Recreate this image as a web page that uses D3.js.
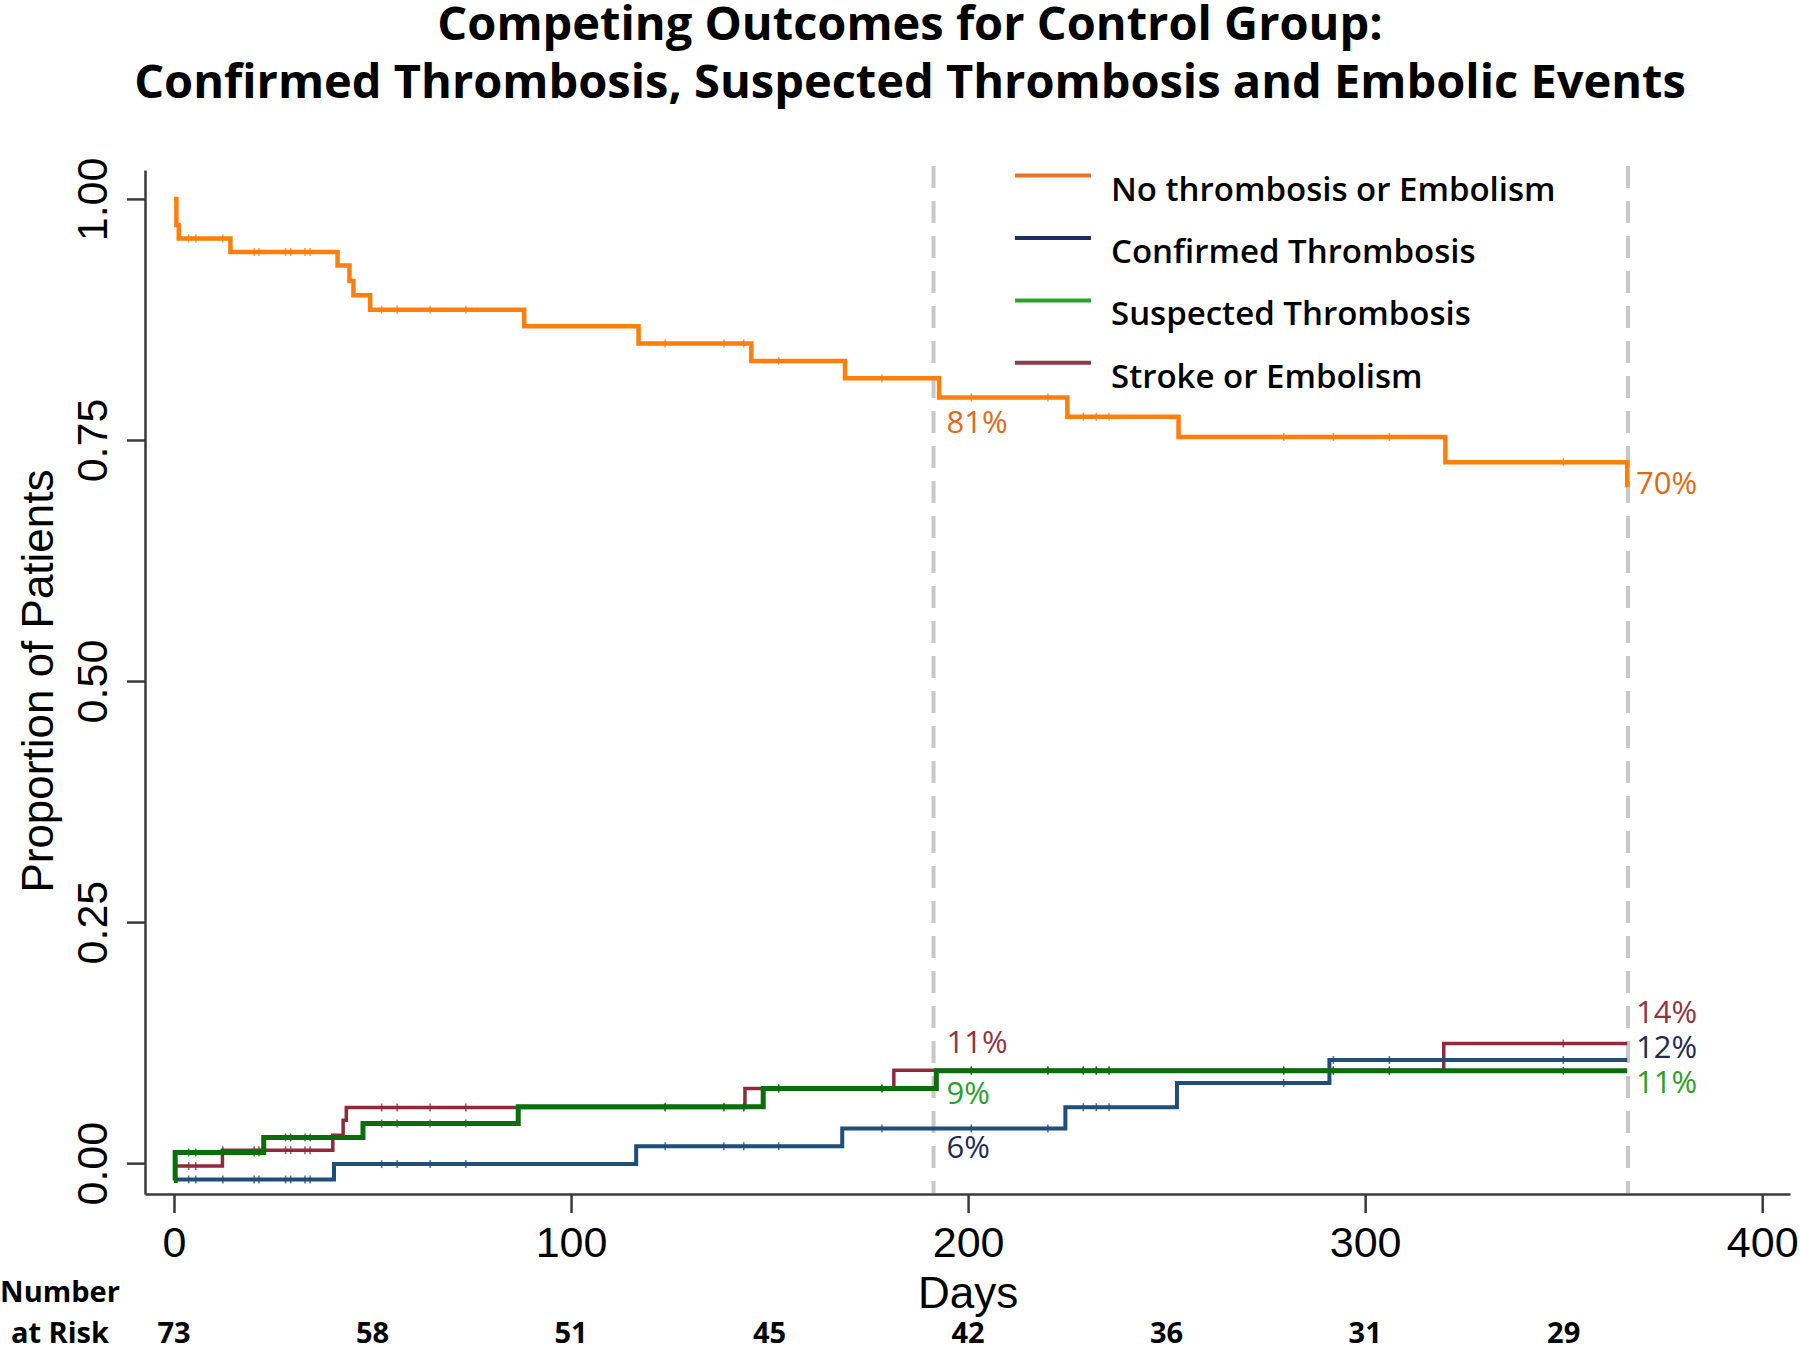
<!DOCTYPE html>
<html>
<head>
<meta charset="utf-8">
<script src="https://cdn.jsdelivr.net/npm/d3@7"></script>
<style>
  body { margin: 0; background: #fff; }
  svg { display: block; }
</style>
</head>
<body>
<div id="chart"></div>
<script>
// step curves (days, proportion)
var noEventDays = [0, 0.6, 1.2, 14.2, 41.2, 44.2, 45.2, 49.4, 88.2, 117, 145.4, 169, 192.7, 225, 253, 320.2, 366];
var noEventVals = [1.0, 0.973, 0.959, 0.945, 0.931, 0.915, 0.900, 0.885, 0.868, 0.850, 0.832, 0.814, 0.794, 0.774, 0.753, 0.727, 0.701];

var confirmedDays = [0, 40.3, 116.4, 168.3, 224.5, 252.6, 291, 366];
var confirmedVals = [-0.017, -0.001, 0.0176, 0.036, 0.058, 0.083, 0.107, 0.107];

var strokeDays = [0, 12.2, 40, 42.6, 43.4, 143.8, 181.3, 319.8, 366];
var strokeVals = [-0.003, 0.0135, 0.029, 0.0446, 0.0577, 0.0774, 0.0964, 0.124, 0.124];

var suspectedDays = [0, 0.3, 22.6, 47.6, 86.7, 148.4, 192, 366];
var suspectedVals = [-0.018, 0.011, 0.0266, 0.041, 0.0584, 0.0774, 0.0957, 0.0957];

// censoring times (shared by all curves)
var censorDays = [3.7, 5.5, 12.3, 20.2, 21.4, 28.1, 29.4, 33, 34.3, 52.3, 56.2, 64.5, 73.5,
                  123.7, 138.5, 143.5, 152.3, 178.3, 200.8, 220.1, 229, 232.3, 235.5, 279.5, 292, 306.1, 349.9];

var seriesNames = ["No thrombosis or Embolism", "Confirmed Thrombosis", "Suspected Thrombosis", "Stroke or Embolism"];

var xTicks = [0, 100, 200, 300, 400];
var yTicks = [0, 0.25, 0.5, 0.75, 1];
var markDays = [191.3, 366.2];

var riskDays = [0, 50, 100, 150, 200, 250, 300, 350];
var riskCounts = [73, 58, 51, 45, 42, 36, 31, 29];

var labels6m = ["81%", "6%", "9%", "11%"];
var labels1y = ["70%", "12%", "11%", "14%"];

var pal = {
  orange: "#ff7f0e", navy: "#1f4e79", green: "#0b6e0b", red: "#8e2a3a",
  legOrange: "#e2762a", legNavy: "#1f2e5e", legGreen: "#2ca02c", legRed: "#8b3b4b",
  txtOrange: "#e06a1b", txtNavy: "#1f2b55", txtGreen: "#2e9e2e", txtRed: "#93333f"
};

var width = 1800, height = 1350;
var calibri = "'Open Sans', Lato, sans-serif";
var helv = "'Liberation Sans', Arial, Helvetica, sans-serif";

var svg = d3.select("#chart").append("svg")
    .attr("width", width)
    .attr("height", height);

svg.append("rect").attr("width", width).attr("height", height).attr("fill", "#fff");

var x = d3.scaleLinear().domain([-7.3, 407]).range([145, 1790]);
var y = d3.scaleLinear().domain([-0.032, 1.03]).range([1194, 170]);

// title
svg.append("text")
    .attr("x", 910).attr("y", 40)
    .attr("text-anchor", "middle")
    .style("font-family", calibri).style("font-weight", "bold").style("font-size", "47px")
    .text("Competing Outcomes for Control Group:");
svg.append("text")
    .attr("x", 910).attr("y", 98)
    .attr("text-anchor", "middle")
    .style("font-family", calibri).style("font-weight", "bold").style("font-size", "47px")
    .text("Confirmed Thrombosis, Suspected Thrombosis and Embolic Events");

// dashed reference lines
svg.selectAll(".mark")
    .data(markDays)
    .enter().append("line")
    .attr("class", "mark")
    .attr("x1", function(d) { return x(d); })
    .attr("x2", function(d) { return x(d); })
    .attr("y1", 166).attr("y2", 1193)
    .attr("stroke", "#c8c8c8")
    .attr("stroke-width", 4)
    .attr("stroke-dasharray", "22,13");

// axes
var xAxis = svg.append("g")
    .attr("transform", "translate(0," + y(-0.032) + ")")
    .call(d3.axisBottom(x).tickValues(xTicks).tickSize(19).tickSizeOuter(0).tickPadding(13));
xAxis.selectAll("text")
    .style("font-family", helv).style("font-size", "43px").attr("fill", "#000");

var yAxis = svg.append("g")
    .attr("transform", "translate(" + x(-7.3) + ",0)")
    .call(d3.axisLeft(y).tickValues(yTicks).tickSize(18).tickSizeOuter(0).tickFormat(d3.format(".2f")));
yAxis.selectAll("text")
    .attr("transform", "rotate(-90)")
    .attr("x", 0).attr("y", -38).attr("dy", 0)
    .attr("text-anchor", "middle")
    .style("font-family", helv).style("font-size", "43px").attr("fill", "#000");

svg.selectAll(".domain, .tick line")
    .attr("stroke", "#3a3a3a")
    .attr("stroke-width", 2.5);

// axis titles
svg.append("text")
    .attr("transform", "translate(53," + y(0.5) + ") rotate(-90)")
    .attr("text-anchor", "middle")
    .style("font-family", helv).style("font-size", "44px")
    .text("Proportion of Patients");

svg.append("text")
    .attr("x", x(200)).attr("y", 1308)
    .attr("text-anchor", "middle")
    .style("font-family", helv).style("font-size", "44px")
    .text("Days");

// curves
var series = [
  {name: seriesNames[0], days: noEventDays, vals: noEventVals, color: pal.orange, w: 4.5},
  {name: seriesNames[3], days: strokeDays, vals: strokeVals, color: pal.red, w: 3.5},
  {name: seriesNames[1], days: confirmedDays, vals: confirmedVals, color: pal.navy, w: 4},
  {name: seriesNames[2], days: suspectedDays, vals: suspectedVals, color: pal.green, w: 5}
];

var line = d3.line()
    .x(function(d) { return x(d[0]); })
    .y(function(d) { return y(d[1]); })
    .curve(d3.curveStepAfter);

function valueAt(s, day) {
  var i = d3.bisectRight(s.days, day) - 1;
  return s.vals[Math.max(0, i)];
}

series.forEach(function(s) {
  var pts = s.days.map(function(d, i) { return [d, s.vals[i]]; });
  svg.append("path")
      .datum(pts)
      .attr("fill", "none")
      .attr("stroke", s.color)
      .attr("stroke-width", s.w)
      .attr("stroke-linejoin", "miter")
      .attr("d", line);

  svg.selectAll(null)
      .data(censorDays.filter(function(d) { return d < s.days[s.days.length - 1]; }))
      .enter().append("line")
      .attr("x1", function(d) { return x(d); })
      .attr("x2", function(d) { return x(d); })
      .attr("y1", function(d) { return y(valueAt(s, d)) - 4; })
      .attr("y2", function(d) { return y(valueAt(s, d)) + 4; })
      .attr("stroke", s.color)
      .attr("stroke-opacity", 0.8)
      .attr("stroke-width", 1.5);
});

// percentage labels at the two reference lines
var lab6 = [
  {t: labels6m[0], s: series[0], dy: 55, c: pal.txtOrange},
  {t: labels6m[1], s: series[2], dy: 30, c: pal.txtNavy},
  {t: labels6m[2], s: series[3], dy: 15, c: pal.txtGreen},
  {t: labels6m[3], s: series[1], dy: -17, c: pal.txtRed}
];
var lab1 = [
  {t: labels1y[0], s: series[0], dy: 7, c: pal.txtOrange},
  {t: labels1y[1], s: series[2], dy: -2, c: pal.txtNavy},
  {t: labels1y[2], s: series[3], dy: 22, c: pal.txtGreen},
  {t: labels1y[3], s: series[1], dy: -21, c: pal.txtRed}
];

lab6.forEach(function(l) {
  svg.append("text")
      .attr("x", x(markDays[0]) + 13)
      .attr("y", y(valueAt(l.s, markDays[0] - 0.5)) + l.dy)
      .attr("fill", l.c)
      .style("font-family", calibri).style("font-size", "31px")
      .text(l.t);
});
lab1.forEach(function(l) {
  svg.append("text")
      .attr("x", x(markDays[1]) + 8)
      .attr("y", y(valueAt(l.s, markDays[1])) + l.dy)
      .attr("fill", l.c)
      .style("font-family", calibri).style("font-size", "31px")
      .text(l.t);
});

// legend
var legColors = [pal.legOrange, pal.legNavy, pal.legGreen, pal.legRed];
var legend = svg.selectAll(".legend")
    .data(seriesNames)
    .enter().append("g")
    .attr("class", "legend")
    .attr("transform", function(d, i) { return "translate(1015," + (175.6 + i * 62.4) + ")"; });

legend.append("line")
    .attr("x1", 0).attr("x2", 76)
    .attr("stroke", function(d, i) { return legColors[i]; })
    .attr("stroke-width", 4);

legend.append("text")
    .attr("x", 96).attr("y", 25)
    .style("font-family", calibri).style("font-weight", "600").style("font-size", "33px")
    .text(function(d) { return d; });

// number at risk
svg.append("text")
    .attr("x", 60).attr("y", 1302)
    .attr("text-anchor", "middle")
    .style("font-family", calibri).style("font-weight", "bold").style("font-size", "29px")
    .text("Number");
svg.append("text")
    .attr("x", 60).attr("y", 1343)
    .attr("text-anchor", "middle")
    .style("font-family", calibri).style("font-weight", "bold").style("font-size", "29px")
    .text("at Risk");

svg.selectAll(".risk")
    .data(riskCounts)
    .enter().append("text")
    .attr("class", "risk")
    .attr("x", function(d, i) { return x(riskDays[i]); })
    .attr("y", 1343)
    .attr("text-anchor", "middle")
    .style("font-family", calibri).style("font-weight", "bold").style("font-size", "29px")
    .text(function(d) { return d; });
</script>
</body>
</html>
